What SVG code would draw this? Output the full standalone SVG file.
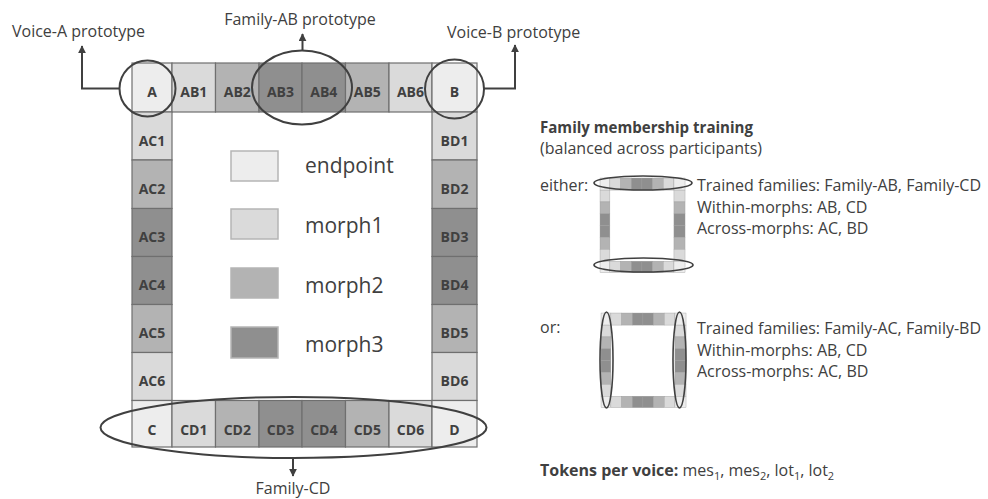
<svg xmlns="http://www.w3.org/2000/svg" xmlns:xlink="http://www.w3.org/1999/xlink" width="988" height="499" viewBox="0 0 988 499">
  <style>
    text { font-family: "Open Sans", "Liberation Sans", sans-serif; fill: #404040; }
    .end { fill: #ededed; }
    .m1 { fill: #dadada; }
    .m2 { fill: #b3b3b3; }
    .m3 { fill: #8f8f8f; }
    .cell rect { stroke: #6f6f6f; stroke-width: 1.2; }
    .cell text { font-weight: bold; font-size: 14px; text-anchor: middle; }
    .key rect { stroke: #b5b5b5; stroke-width: 1.5; }
    .key text { font-size: 21px; }
    .ring { fill: none; stroke: #404040; stroke-width: 2; }
    .mini-ring { fill: none; stroke: #404040; stroke-width: 1.6; }
    .wire { fill: none; stroke: #404040; stroke-width: 2; }
    .cap { font-size: 16px; }
    .note { font-size: 16px; }
    .bold { font-weight: bold; }
  </style>
  <defs>
    <marker id="head" viewBox="0 0 10 10" refX="9" refY="5" markerWidth="4" markerHeight="4" orient="auto">
      <path d="M0,0 L10,5 L0,10 z" fill="#404040"/>
    </marker>
    <!-- colour ring of the continuum, cells only (used for the small schematics) -->
    <g id="ring-cells" stroke="#9a9a9a" stroke-width="1.5">
      <rect class="end" x="132" y="63" width="40" height="49"/>
      <rect class="m1" x="172" y="63" width="43.5" height="49"/>
      <rect class="m2" x="215.5" y="63" width="43.5" height="49"/>
      <rect class="m3" x="259" y="63" width="43" height="49"/>
      <rect class="m3" x="302" y="63" width="43.5" height="49"/>
      <rect class="m2" x="345.5" y="63" width="43.5" height="49"/>
      <rect class="m1" x="389" y="63" width="43" height="49"/>
      <rect class="end" x="432" y="63" width="45" height="49"/>
      <rect class="m1" x="132" y="112" width="40" height="48"/>
      <rect class="m2" x="132" y="160" width="40" height="48.5"/>
      <rect class="m3" x="132" y="208.5" width="40" height="48"/>
      <rect class="m3" x="132" y="256.5" width="40" height="48"/>
      <rect class="m2" x="132" y="304.5" width="40" height="48"/>
      <rect class="m1" x="132" y="352.5" width="40" height="48"/>
      <rect class="m1" x="432" y="112" width="45" height="48"/>
      <rect class="m2" x="432" y="160" width="45" height="48.5"/>
      <rect class="m3" x="432" y="208.5" width="45" height="48"/>
      <rect class="m3" x="432" y="256.5" width="45" height="48"/>
      <rect class="m2" x="432" y="304.5" width="45" height="48"/>
      <rect class="m1" x="432" y="352.5" width="45" height="48"/>
      <rect class="end" x="132" y="400.5" width="40" height="46.5"/>
      <rect class="m1" x="172" y="400.5" width="43.5" height="46.5"/>
      <rect class="m2" x="215.5" y="400.5" width="43.5" height="46.5"/>
      <rect class="m3" x="259" y="400.5" width="43" height="46.5"/>
      <rect class="m3" x="302" y="400.5" width="43.5" height="46.5"/>
      <rect class="m2" x="345.5" y="400.5" width="43.5" height="46.5"/>
      <rect class="m1" x="389" y="400.5" width="43" height="46.5"/>
      <rect class="end" x="432" y="400.5" width="45" height="46.5"/>
    </g>
  </defs>

  <rect width="988" height="499" fill="#ffffff"/>

  <!-- top row: A ... B -->
  <g id="A" class="cell"><rect class="end" x="132" y="63" width="40" height="49"/><text x="152" y="97">A</text></g>
  <g id="AB1" class="cell"><rect class="m1" x="172" y="63" width="43.5" height="49"/><text x="193.8" y="97">AB1</text></g>
  <g id="AB2" class="cell"><rect class="m2" x="215.5" y="63" width="43.5" height="49"/><text x="237.3" y="97">AB2</text></g>
  <g id="AB3" class="cell"><rect class="m3" x="259" y="63" width="43" height="49"/><text x="280.5" y="97">AB3</text></g>
  <g id="AB4" class="cell"><rect class="m3" x="302" y="63" width="43.5" height="49"/><text x="323.8" y="97">AB4</text></g>
  <g id="AB5" class="cell"><rect class="m2" x="345.5" y="63" width="43.5" height="49"/><text x="367.3" y="97">AB5</text></g>
  <g id="AB6" class="cell"><rect class="m1" x="389" y="63" width="43" height="49"/><text x="410.5" y="97">AB6</text></g>
  <g id="B" class="cell"><rect class="end" x="432" y="63" width="45" height="49"/><text x="454.5" y="97">B</text></g>

  <!-- left column: AC1 ... AC6 -->
  <g id="AC1" class="cell"><rect class="m1" x="132" y="112" width="40" height="48"/><text x="152" y="146">AC1</text></g>
  <g id="AC2" class="cell"><rect class="m2" x="132" y="160" width="40" height="48.5"/><text x="152" y="194">AC2</text></g>
  <g id="AC3" class="cell"><rect class="m3" x="132" y="208.5" width="40" height="48"/><text x="152" y="242">AC3</text></g>
  <g id="AC4" class="cell"><rect class="m3" x="132" y="256.5" width="40" height="48"/><text x="152" y="290">AC4</text></g>
  <g id="AC5" class="cell"><rect class="m2" x="132" y="304.5" width="40" height="48"/><text x="152" y="338">AC5</text></g>
  <g id="AC6" class="cell"><rect class="m1" x="132" y="352.5" width="40" height="48"/><text x="152" y="386">AC6</text></g>

  <!-- right column: BD1 ... BD6 -->
  <g id="BD1" class="cell"><rect class="m1" x="432" y="112" width="45" height="48"/><text x="454.5" y="146">BD1</text></g>
  <g id="BD2" class="cell"><rect class="m2" x="432" y="160" width="45" height="48.5"/><text x="454.5" y="194">BD2</text></g>
  <g id="BD3" class="cell"><rect class="m3" x="432" y="208.5" width="45" height="48"/><text x="454.5" y="242">BD3</text></g>
  <g id="BD4" class="cell"><rect class="m3" x="432" y="256.5" width="45" height="48"/><text x="454.5" y="290">BD4</text></g>
  <g id="BD5" class="cell"><rect class="m2" x="432" y="304.5" width="45" height="48"/><text x="454.5" y="338">BD5</text></g>
  <g id="BD6" class="cell"><rect class="m1" x="432" y="352.5" width="45" height="48"/><text x="454.5" y="386">BD6</text></g>

  <!-- bottom row: C ... D -->
  <g id="C" class="cell"><rect class="end" x="132" y="400.5" width="40" height="46.5"/><text x="152" y="435">C</text></g>
  <g id="CD1" class="cell"><rect class="m1" x="172" y="400.5" width="43.5" height="46.5"/><text x="193.8" y="435">CD1</text></g>
  <g id="CD2" class="cell"><rect class="m2" x="215.5" y="400.5" width="43.5" height="46.5"/><text x="237.3" y="435">CD2</text></g>
  <g id="CD3" class="cell"><rect class="m3" x="259" y="400.5" width="43" height="46.5"/><text x="280.5" y="435">CD3</text></g>
  <g id="CD4" class="cell"><rect class="m3" x="302" y="400.5" width="43.5" height="46.5"/><text x="323.8" y="435">CD4</text></g>
  <g id="CD5" class="cell"><rect class="m2" x="345.5" y="400.5" width="43.5" height="46.5"/><text x="367.3" y="435">CD5</text></g>
  <g id="CD6" class="cell"><rect class="m1" x="389" y="400.5" width="43" height="46.5"/><text x="410.5" y="435">CD6</text></g>
  <g id="D" class="cell"><rect class="end" x="432" y="400.5" width="45" height="46.5"/><text x="454.5" y="435">D</text></g>

  <!-- legend -->
  <g id="legend" class="key">
    <rect class="end" x="231" y="151" width="47" height="30"/><text x="305" y="173">endpoint</text>
    <rect class="m1" x="231" y="209" width="47" height="30"/><text x="305" y="233">morph1</text>
    <rect class="m2" x="231" y="268" width="47" height="30"/><text x="305" y="293">morph2</text>
    <rect class="m3" x="231" y="327" width="47" height="31"/><text x="305" y="352">morph3</text>
  </g>

  <!-- prototype / family outlines -->
  <g id="voiceA-ring"><circle class="ring" cx="147.5" cy="88.5" r="28"/></g>
  <g id="voiceB-ring"><circle class="ring" cx="454.5" cy="89" r="29.5"/></g>
  <g id="familyAB-ring"><ellipse class="ring" cx="302" cy="87.5" rx="50" ry="37"/></g>
  <g id="familyCD-ring"><ellipse class="ring" cx="293.5" cy="427.5" rx="193" ry="30.5"/></g>

  <!-- connectors -->
  <g id="connectors">
    <path class="wire" d="M119.5,88.5 H82 V46" marker-end="url(#head)"/>
    <path class="wire" d="M484,88.5 H515 V45" marker-end="url(#head)"/>
    <path class="wire" d="M302.5,50.5 V34" marker-end="url(#head)"/>
    <path class="wire" d="M293,458 V476" marker-end="url(#head)"/>
  </g>

  <!-- captions -->
  <g id="captions">
    <text class="cap" x="12" y="37">Voice-A prototype</text>
    <text class="cap" x="300" y="25" text-anchor="middle">Family-AB prototype</text>
    <text class="cap" x="447" y="38">Voice-B prototype</text>
    <text class="cap" x="293" y="494" text-anchor="middle">Family-CD</text>
  </g>

  <!-- training panel -->
  <g id="training">
    <text class="note bold" x="540" y="133" font-size="15" textLength="213" lengthAdjust="spacingAndGlyphs">Family membership training</text>
    <text class="note" x="540" y="154">(balanced across participants)</text>

    <g id="either">
      <text class="note" x="540" y="191">either:</text>
      <use xlink:href="#ring-cells" transform="translate(567.5,162.5) scale(0.2464)"/>
      <ellipse class="mini-ring" cx="643" cy="183" rx="49" ry="7"/>
      <ellipse class="mini-ring" cx="643.5" cy="265" rx="49.5" ry="7"/>
      <text class="note" x="697" y="191">Trained families: Family-AB, Family-CD</text>
      <text class="note" x="697" y="212.5">Within-morphs: AB, CD</text>
      <text class="note" x="697" y="234">Across-morphs: AC, BD</text>
    </g>

    <g id="or">
      <text class="note" x="540" y="333">or:</text>
      <use xlink:href="#ring-cells" transform="translate(568.5,297.5) scale(0.2464)"/>
      <ellipse class="mini-ring" cx="606.5" cy="360" rx="6.5" ry="48"/>
      <ellipse class="mini-ring" cx="679.5" cy="360" rx="6.5" ry="48"/>
      <text class="note" x="697" y="334">Trained families: Family-AC, Family-BD</text>
      <text class="note" x="697" y="355.5">Within-morphs: AB, CD</text>
      <text class="note" x="697" y="377">Across-morphs: AC, BD</text>
    </g>

    <text class="note" x="540" y="476"><tspan class="bold">Tokens per voice:</tspan> mes<tspan font-size="11" dy="4">1</tspan><tspan dy="-4">, mes</tspan><tspan font-size="11" dy="4">2</tspan><tspan dy="-4">, lot</tspan><tspan font-size="11" dy="4">1</tspan><tspan dy="-4">, lot</tspan><tspan font-size="11" dy="4">2</tspan></text>
  </g>
</svg>
